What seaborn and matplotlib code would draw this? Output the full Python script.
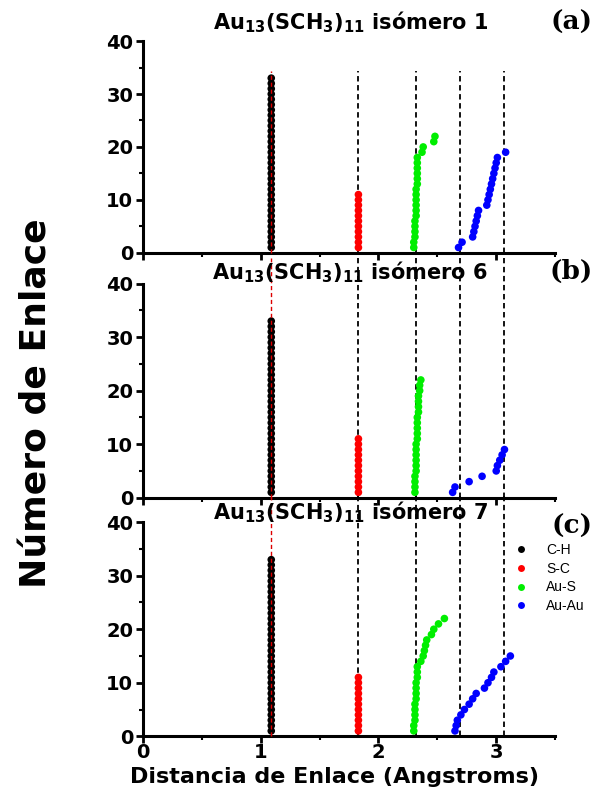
import pandas as pd
import matplotlib.pyplot as plt
import matplotlib.ticker as mticker
import seaborn as sns

# distances (Angstroms) for each bond, listed in order of bond number
ch_a = [1.09, 1.09, 1.09, 1.09, 1.09, 1.09, 1.09, 1.09, 1.09, 1.09, 1.09,
        1.09, 1.09, 1.09, 1.09, 1.09, 1.09, 1.09, 1.09, 1.09, 1.09, 1.09,
        1.09, 1.09, 1.09, 1.09, 1.09, 1.09, 1.09, 1.09, 1.09, 1.09, 1.09]
sc_a = [1.83, 1.83, 1.83, 1.83, 1.83, 1.83, 1.83, 1.83, 1.83, 1.83, 1.83]
aus_a = [2.30, 2.30, 2.31, 2.31, 2.31, 2.31, 2.32, 2.32, 2.32, 2.32, 2.32,
         2.32, 2.33, 2.33, 2.33, 2.33, 2.33, 2.33, 2.37, 2.38, 2.47, 2.48]
auau_a = [2.68, 2.71, 2.80, 2.81, 2.82, 2.83, 2.84, 2.85, 2.92, 2.93,
          2.94, 2.95, 2.96, 2.97, 2.98, 2.99, 3.00, 3.01, 3.08]

ch_b = [1.09, 1.09, 1.09, 1.09, 1.09, 1.09, 1.09, 1.09, 1.09, 1.09, 1.09,
        1.09, 1.09, 1.09, 1.09, 1.09, 1.09, 1.09, 1.09, 1.09, 1.09, 1.09,
        1.09, 1.09, 1.09, 1.09, 1.09, 1.09, 1.09, 1.09, 1.09, 1.09, 1.09]
sc_b = [1.83, 1.83, 1.83, 1.83, 1.83, 1.83, 1.83, 1.83, 1.83, 1.83, 1.83]
aus_b = [2.31, 2.31, 2.31, 2.31, 2.32, 2.32, 2.32, 2.32, 2.32, 2.32, 2.33,
         2.33, 2.33, 2.33, 2.33, 2.34, 2.34, 2.34, 2.34, 2.35, 2.35, 2.36]
auau_b = [2.63, 2.65, 2.77, 2.88, 3.00, 3.01, 3.03, 3.05, 3.07]

ch_c = [1.09, 1.09, 1.09, 1.09, 1.09, 1.09, 1.09, 1.09, 1.09, 1.09, 1.09,
        1.09, 1.09, 1.09, 1.09, 1.09, 1.09, 1.09, 1.09, 1.09, 1.09, 1.09,
        1.09, 1.09, 1.09, 1.09, 1.09, 1.09, 1.09, 1.09, 1.09, 1.09, 1.09]
sc_c = [1.83, 1.83, 1.83, 1.83, 1.83, 1.83, 1.83, 1.83, 1.83, 1.83, 1.83]
aus_c = [2.30, 2.30, 2.31, 2.31, 2.31, 2.31, 2.32, 2.32, 2.32, 2.32, 2.33,
         2.33, 2.33, 2.36, 2.38, 2.39, 2.40, 2.41, 2.45, 2.47, 2.51, 2.56]
auau_c = [2.65, 2.66, 2.67, 2.70, 2.73, 2.77, 2.80, 2.83, 2.90, 2.93,
          2.96, 2.98, 3.04, 3.08, 3.12]

bond_types = ["C-H", "S-C", "Au-S", "Au-Au"]
colors = ["black", "#ff0000", "#00ee00", "#0000ff"]
ref_ch = 1.09
ref_lines = [1.83, 2.32, 2.69, 3.07]
isomers = ["1", "6", "7"]
panel_tags = ["(a)", "(b)", "(c)"]
panels = [[ch_a, sc_a, aus_a, auau_a],
          [ch_b, sc_b, aus_b, auau_b],
          [ch_c, sc_c, aus_c, auau_c]]

sns.set_style("ticks")
plt.rcParams["font.family"] = ["DejaVu Sans"]
plt.rcParams["mathtext.fontset"] = "custom"
plt.rcParams["mathtext.bf"] = "DejaVu Sans:bold"
plt.rcParams["mathtext.rm"] = "DejaVu Sans:bold"
plt.rcParams["mathtext.default"] = "bf"
for key in ["text.color", "axes.labelcolor", "xtick.color", "ytick.color",
            "axes.edgecolor"]:
    plt.rcParams[key] = "black"

fig = plt.figure(figsize=(6.08, 7.9), dpi=100)
boxes = [[0.235, 0.680, 0.678, 0.268],
         [0.235, 0.370, 0.678, 0.271],
         [0.235, 0.068, 0.678, 0.271]]
line_top = [0.86, 1.12, 1.12]
title_y = [0.972, 0.655, 0.352]
tag_y = [0.972, 0.656, 0.334]

for i, series in enumerate(panels):
    ax = fig.add_axes(boxes[i])
    frames = []
    for name, xs in zip(bond_types, series):
        frames.append(pd.DataFrame({"dist": xs,
                                    "num": range(1, len(xs) + 1),
                                    "Enlace": name}))
    df = pd.concat(frames, ignore_index=True)

    for xv in ref_lines:
        ax.axvline(xv, ymin=0, ymax=line_top[i], color="black", lw=1.3,
                   ls=(0, (3, 2)), clip_on=False, zorder=1)
    sns.scatterplot(data=df, x="dist", y="num", hue="Enlace",
                    hue_order=bond_types, palette=colors, s=30,
                    linewidth=0, ax=ax, legend=(i == 2), zorder=2)
    ax.axvline(ref_ch, ymin=0, ymax=line_top[i], color="#dd0000", lw=1.0,
               ls=(0, (3, 2)), clip_on=False, zorder=3)

    ax.set_xlim(0, 3.5)
    ax.set_ylim(0, 40)
    ax.xaxis.set_major_locator(mticker.MultipleLocator(1))
    ax.xaxis.set_minor_locator(mticker.MultipleLocator(0.5))
    ax.yaxis.set_major_locator(mticker.MultipleLocator(10))
    ax.yaxis.set_minor_locator(mticker.MultipleLocator(5))
    ax.tick_params(which="major", direction="out", length=5, width=2,
                   labelsize=14, pad=2)
    ax.tick_params(which="minor", direction="out", length=3, width=1.5)
    ax.tick_params(axis="x", pad=0)
    for lab in ax.get_yticklabels() + ax.get_xticklabels():
        lab.set_fontweight("bold")
    if i < 2:
        ax.tick_params(axis="x", labelbottom=False)
    ax.set_xlabel("")
    ax.set_ylabel("")
    sns.despine(ax=ax)
    for sp in ["left", "bottom"]:
        ax.spines[sp].set_linewidth(2.2)

    fig.text(0.576, title_y[i],
             "Au$_{13}$(SCH$_{3}$)$_{11}$ isómero " + isomers[i],
             ha="center", va="center", fontsize=15, fontweight="bold")
    fig.text(0.94, tag_y[i], panel_tags[i], ha="center", va="center",
             fontsize=19, fontweight="bold", family="DejaVu Serif")

    if i == 2:
        leg = ax.legend(loc="upper left", bbox_to_anchor=(0.87, 0.93),
                        frameon=False, handletextpad=0.8,
                        labelspacing=0.35, borderaxespad=0,
                        prop={"family": "Liberation Sans", "size": 10})
        for h in leg.legend_handles:
            h.set_markersize(5)

fig.text(0.06, 0.49, "Número de Enlace", rotation=90, ha="center",
         va="center", fontsize=26, fontweight="bold")
fig.text(0.55, 0.017, "Distancia de Enlace (Angstroms)", ha="center",
         va="center", fontsize=16, fontweight="bold")

fig.savefig("out.png", dpi=100)
